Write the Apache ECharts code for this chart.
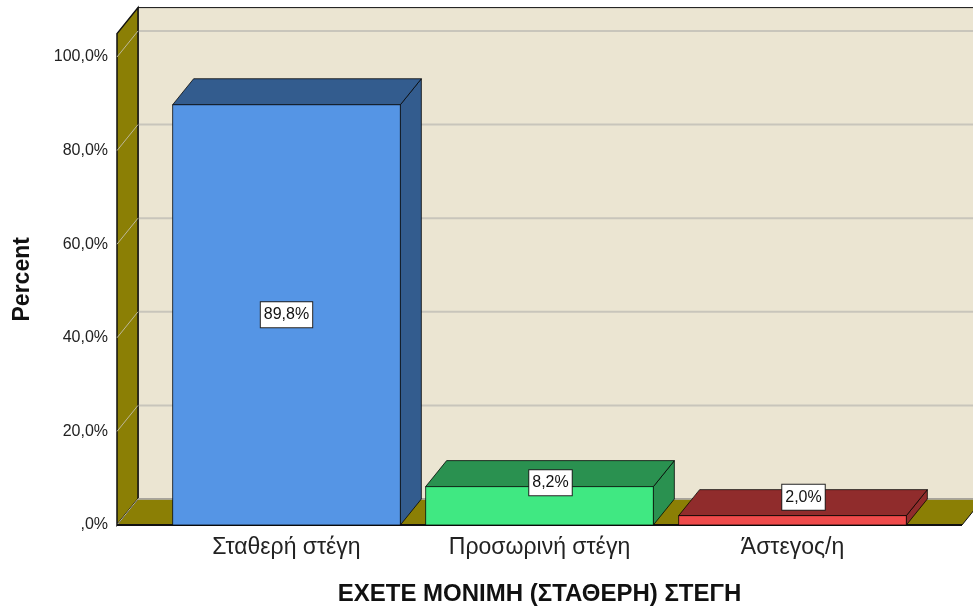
<!DOCTYPE html>
<html>
<head>
<meta charset="utf-8">
<script src="https://cdn.jsdelivr.net/npm/echarts@6/dist/echarts.min.js"></script>
<style>
html, body { margin: 0; padding: 0; background: #fff; }
#chart { width: 973px; height: 609px; }
</style>
</head>
<body>
<div id="chart"></div>
<script>
// data
var categories = ['Σταθερή στέγη', 'Προσωρινή στέγη', 'Άστεγος/η'];
var percents = [89.8, 8.2, 2.0];
var tickValues = [0, 20, 40, 60, 80, 100];
var tickLabels = [',0%', '20,0%', '40,0%', '60,0%', '80,0%', '100,0%'];
var frontColors = ['#5595e5', '#40e882', '#ef4b4b'];
var topColors = ['#335c8e', '#2a9150', '#902c2c'];

// 3d look
var DX = 21, DY = -26;   // depth offset
var EXT = 43;            // floor / wall extension outside the grid
var WALL = '#ebe5d2', OLIVE = '#8b7f05';

function fmt(v) {
	return v.toFixed(1).replace('.', ',') + '%';
}

var chart = echarts.init(document.getElementById('chart'));

function renderWalls(params, api) {
	var cs = params.coordSys;
	var xl = cs.x - EXT, xr = cs.x + cs.width + EXT;
	var y0 = api.coord([0, 0])[1];
	var yt = cs.y;
	var kids = [];
	// back wall
	kids.push({ type: 'polygon', shape: { points: [[xl + DX, yt + DY], [xr + DX + 30, yt + DY], [xr + DX + 30, y0 + DY], [xl + DX, y0 + DY]] },
		style: { fill: WALL, stroke: '#111', lineWidth: 1 } });
	// grid lines
	for (var i = 1; i < tickValues.length; i++) {
		var y = api.coord([0, tickValues[i]])[1];
		kids.push({ type: 'line', shape: { x1: xl + DX, y1: y + DY, x2: xr + DX + 30, y2: y + DY }, style: { stroke: '#c8c5bb', lineWidth: 2 } });
	}
	// left wall
	kids.push({ type: 'polygon', shape: { points: [[xl, yt], [xl + DX, yt + DY], [xl + DX, y0 + DY], [xl, y0]] },
		style: { fill: OLIVE, stroke: '#111', lineWidth: 1.5 } });
	for (var j = 1; j < tickValues.length; j++) {
		var yy = api.coord([0, tickValues[j]])[1];
		kids.push({ type: 'line', shape: { x1: xl, y1: yy, x2: xl + DX, y2: yy + DY }, style: { stroke: '#bdb89a', lineWidth: 1 } });
	}
	// floor
	kids.push({ type: 'polygon', shape: { points: [[xl, y0], [xr, y0], [xr + DX, y0 + DY], [xl + DX, y0 + DY]] },
		style: { fill: OLIVE, stroke: '#111', lineWidth: 1 } });
	kids.push({ type: 'line', shape: { x1: xl, y1: y0, x2: xl + DX, y2: y0 + DY }, style: { stroke: '#bdb89a', lineWidth: 1 } });
	kids.push({ type: 'line', shape: { x1: xl + DX, y1: y0 + DY, x2: xr + DX, y2: y0 + DY }, style: { stroke: '#c8c5bb', lineWidth: 1.5 } });
	kids.push({ type: 'line', shape: { x1: xl, y1: y0, x2: xr, y2: y0 }, style: { stroke: '#111', lineWidth: 2 } });
	return { type: 'group', children: kids };
}

function renderBar(params, api) {
	var i = api.value(0);
	var v = api.value(1);
	var top = api.coord([i, v]);
	var bottom = api.coord([i, 0]);
	var w = api.size([1, 0])[0] * 0.9;
	var x0 = top[0] - w / 2, x1 = top[0] + w / 2;
	var yT = top[1], yB = bottom[1];
	var edge = 'rgba(0,0,0,0.75)';
	var h = yB - yT;
	var lx = top[0], ly = (yT + yB) / 2;
	if (h < 40) { lx += 11; ly -= 23; }
	return {
		type: 'group',
		children: [
			{ type: 'polygon', shape: { points: [[x1, yT], [x1 + DX, yT + DY], [x1 + DX, yB + DY], [x1, yB]] },
				style: { fill: topColors[i], stroke: edge, lineWidth: 1 } },
			{ type: 'polygon', shape: { points: [[x0, yT], [x0 + DX, yT + DY], [x1 + DX, yT + DY], [x1, yT]] },
				style: { fill: topColors[i], stroke: edge, lineWidth: 1 } },
			{ type: 'rect', shape: { x: x0, y: yT, width: w, height: h },
				style: { fill: frontColors[i], stroke: edge, lineWidth: 1 } },
			{ type: 'text', x: lx, y: ly,
				style: { text: fmt(v), fill: '#111', font: '16px "Liberation Sans", Arial, sans-serif',
					align: 'center', verticalAlign: 'middle', backgroundColor: '#fff',
					borderColor: '#222', borderWidth: 1, padding: [5, 3, 4, 3] } }
		]
	};
}

var option = {
	animation: false,
	backgroundColor: '#fff',
	textStyle: { fontFamily: '"Liberation Sans", Arial, sans-serif' },
	grid: { left: 160, right: 54, top: 33.6, bottom: 84, outerBoundsMode: 'none', containLabel: false },
	xAxis: {
		type: 'category',
		data: categories,
		axisLine: { show: false },
		axisTick: { show: false },
		axisLabel: { fontSize: 23, color: '#222', margin: 11 },
		name: 'ΕΧΕΤΕ ΜΟΝΙΜΗ (ΣΤΑΘΕΡΗ) ΣΤΕΓΗ',
		nameLocation: 'middle',
		nameGap: 57,
		nameTextStyle: { fontSize: 24, fontWeight: 'bold', color: '#111' }
	},
	yAxis: {
		type: 'value',
		min: 0,
		max: 105,
		interval: 20,
		offset: EXT,
		axisLine: { show: false },
		axisTick: { show: false },
		splitLine: { show: false },
		axisLabel: {
			fontSize: 16, color: '#222', margin: 9, showMaxLabel: false,
			formatter: function (val) {
				var k = tickValues.indexOf(val);
				return k < 0 ? '' : tickLabels[k];
			}
		},
		name: 'Percent',
		nameLocation: 'middle',
		nameGap: 83,
		nameRotate: 90,
		nameTextStyle: { fontSize: 23, fontWeight: 'bold', color: '#111' }
	},
	series: [
		{ type: 'custom', renderItem: renderWalls, data: [[0, 0]], silent: true, z: 1 },
		{ type: 'custom', renderItem: renderBar, data: percents.map(function (p, k) { return [k, p]; }), z: 2 }
	]
};

chart.setOption(option);
window.addEventListener('resize', function () { chart.resize(); });
</script>
</body>
</html>
